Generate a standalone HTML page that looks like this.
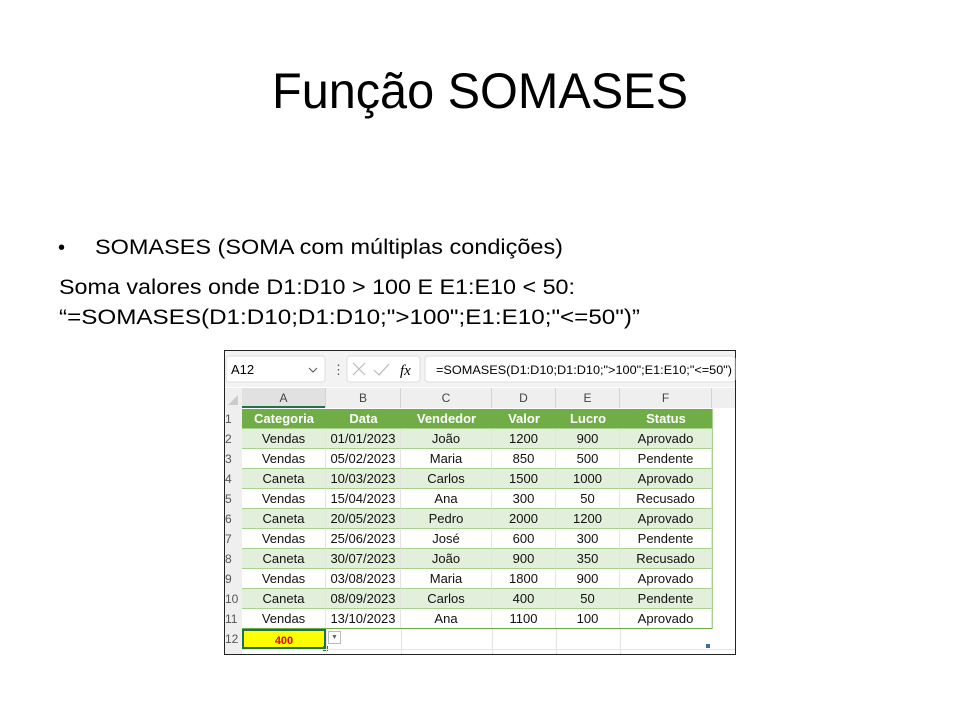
<!DOCTYPE html>
<html><head><meta charset="utf-8"><style>
body{margin:0;background:#fff;width:960px;height:720px;overflow:hidden;position:relative;font-family:"Liberation Sans",sans-serif}
svg{position:absolute;left:0;top:0}
.c{position:absolute;font-size:12px;text-align:center;line-height:20px;height:20px;color:#111}
</style></head><body>
<svg width="960" height="720">
<text x="272" y="108" font-size="50" textLength="416" lengthAdjust="spacingAndGlyphs" font-family="Liberation Sans">Função SOMASES</text>
<text x="58" y="254" font-size="20">•</text>
<text x="95" y="254" font-size="21" textLength="468" lengthAdjust="spacingAndGlyphs">SOMASES (SOMA com múltiplas condições)</text>
<text x="59" y="294" font-size="21" textLength="516" lengthAdjust="spacingAndGlyphs">Soma valores onde D1:D10 &gt; 100 E E1:E10 &lt; 50:</text>
<text x="59" y="324" font-size="21" textLength="581" lengthAdjust="spacingAndGlyphs">“=SOMASES(D1:D10;D1:D10;"&gt;100";E1:E10;"&lt;=50")”</text>

<!-- spreadsheet -->
<rect x="224.5" y="350.5" width="511" height="304" fill="#fff" stroke="#222"/>
<rect x="225" y="351" width="510" height="36" fill="#f3f3f3"/>
<rect x="226" y="356" width="99" height="26" rx="3" fill="#fff" stroke="#ddd"/>
<text x="231" y="374" font-size="13">A12</text>
<path d="M309 368 l4 4 l4 -4" fill="none" stroke="#555"/>
<text x="332" y="374" font-size="13" fill="#555">⋮</text>
<rect x="347" y="356" width="73" height="26" rx="3" fill="#fff" stroke="#ddd"/>
<path d="M353 363 l12 12 M365 363 l-12 12" stroke="#bbb" stroke-width="1.2"/>
<path d="M374 370 l5 5 l10 -11" fill="none" stroke="#bbb" stroke-width="1.2"/>
<text x="400" y="375" font-size="15" font-style="italic" font-family="Liberation Serif">fx</text>
<rect x="425" y="356" width="310" height="26" rx="3" fill="#fff" stroke="#ddd"/>
<text x="436" y="374" font-size="12" textLength="296" lengthAdjust="spacingAndGlyphs">=SOMASES(D1:D10;D1:D10;"&gt;100";E1:E10;"&lt;=50")</text>
<rect x="225" y="388" width="510" height="20" fill="#efefef"/>
<rect x="225" y="408" width="17" height="246" fill="#efefef"/>
<path d="M228 405 l10 -10 v10 z" fill="#ccc"/>
<rect x="242" y="388" width="84" height="20" fill="#e1e1e1"/>
<line x1="242" y1="407" x2="326" y2="407" stroke="#217346" stroke-width="2"/>
</svg>
<div id="g"></div>
<script>
var cols=[242,326,401,492,556,620,712];
var letters="ABCDEF";
var rows=[["Categoria","Data","Vendedor","Valor","Lucro","Status"],
["Vendas","01/01/2023","João","1200","900","Aprovado"],
["Vendas","05/02/2023","Maria","850","500","Pendente"],
["Caneta","10/03/2023","Carlos","1500","1000","Aprovado"],
["Vendas","15/04/2023","Ana","300","50","Recusado"],
["Caneta","20/05/2023","Pedro","2000","1200","Aprovado"],
["Vendas","25/06/2023","José","600","300","Pendente"],
["Caneta","30/07/2023","João","900","350","Recusado"],
["Vendas","03/08/2023","Maria","1800","900","Aprovado"],
["Caneta","08/09/2023","Carlos","400","50","Pendente"],
["Vendas","13/10/2023","Ana","1100","100","Aprovado"]];
var h="";
for(var i=0;i<6;i++){h+='<div class="c" style="left:'+cols[i]+'px;top:388px;width:'+(cols[i+1]-cols[i])+'px;color:#444;border-right:1px solid #d4d4d4;box-sizing:border-box">'+letters[i]+'</div>';}
for(var r=0;r<12;r++){
 var y=409+r*20;
 h+='<div class="c" style="left:225px;top:'+y+'px;width:17px;text-align:left;color:#555;font-size:12px">'+(r+1)+'</div>';
 if(r<11){
  var bg=r==0?'#70ad47':(r%2==1?'#e2efda':'#fff');
  for(var i=0;i<6;i++){
   var st='left:'+cols[i]+'px;top:'+y+'px;width:'+(cols[i+1]-cols[i])+'px;background:'+bg+';box-sizing:border-box;border-bottom:1px solid #a9d08e;';
   if(r>0) st+='border-right:1px solid #e4e4e4;font-size:13px;'; else st+='color:#fff;font-weight:bold;font-size:13px;';
   h+='<div class="c" style="'+st+'">'+rows[r][i]+'</div>';
  }
 }
}
h+='<div style="position:absolute;left:712px;top:409px;width:1px;height:220px;background:#a9d08e"></div>';
h+='<div style="position:absolute;left:242px;top:628px;width:470px;height:1px;background:#70ad47"></div>';
h+='<div class="c" style="left:242px;top:629px;width:84px;background:#ffff00;color:#e00;font-size:11px;font-weight:bold;box-sizing:border-box;border:2px solid #217346">400</div>';
h+='<div style="position:absolute;left:323px;top:646px;width:5px;height:5px;background:#217346"></div>';
h+='<div style="position:absolute;left:328px;top:631px;width:13px;height:13px;border:1px solid #bbb;background:#fff;box-sizing:border-box;font-size:7px;color:#666;text-align:center;line-height:12px">▼</div>';
for(var i=1;i<6;i++){h+='<div style="position:absolute;left:'+cols[i]+'px;top:629px;width:1px;height:25px;background:#e4e4e4"></div>';}
h+='<div style="position:absolute;left:242px;top:649px;width:493px;height:1px;background:#e4e4e4"></div>';
h+='<div style="position:absolute;left:706px;top:644px;width:4px;height:4px;background:#3a6ea5"></div>';
document.getElementById('g').innerHTML=h;
</script>
</body></html>
